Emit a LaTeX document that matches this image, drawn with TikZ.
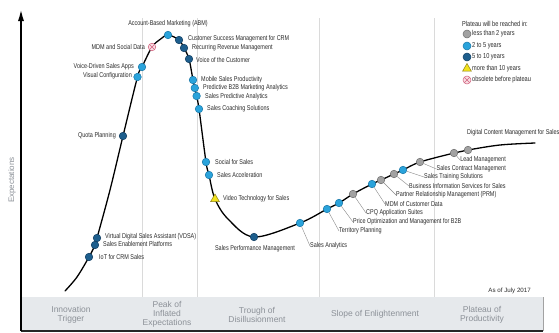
\documentclass[tikz,border=0pt]{standalone}
\usepackage{fontspec}
\setmainfont{Liberation Sans}
\newfontfamily\condf{Liberation Sans}[FakeStretch=0.78]
\usetikzlibrary{arrows.meta,shapes.geometric}
\definecolor{cgray}{HTML}{A2A2A2}
\definecolor{cgrayd}{HTML}{6E6E6E}
\definecolor{clb}{HTML}{2AA3DB}
\definecolor{clbd}{HTML}{1A78A8}
\definecolor{cdb}{HTML}{1D5E8D}
\definecolor{cdbd}{HTML}{123F63}
\definecolor{cyl}{HTML}{F2E21C}
\definecolor{cyld}{HTML}{8C8012}
\definecolor{cobs}{HTML}{D2637F}
\definecolor{cobsf}{HTML}{F8DCE3}
\definecolor{ctext}{HTML}{2B2B2B}
\definecolor{cphase}{HTML}{8C9198}
\definecolor{cband}{HTML}{E6E9EC}
\definecolor{cdiv}{HTML}{DADADA}
\definecolor{clead}{HTML}{8A8A8A}
\begin{document}
\begin{tikzpicture}[x=1pt,y=-1pt,
  lab/.style={font=\condf\fontsize{7}{8}\selectfont, text=ctext, inner sep=0pt},
  leg/.style={font=\condf\fontsize{7.2}{8}\selectfont, text=ctext, inner sep=0pt, anchor=west},
  phase/.style={font=\fontsize{8.5}{9}\selectfont, text=cphase, align=center, inner sep=0pt},
  dot/.style={circle, minimum size=7.6pt, inner sep=0pt, line width=0.5pt},
  gr/.style={dot, fill=cgray, draw=cgrayd},
  lb/.style={dot, fill=clb, draw=clbd},
  db/.style={dot, fill=cdb, draw=cdbd},
  yl/.style={regular polygon, regular polygon sides=3, minimum size=10pt, inner sep=0pt, fill=cyl, draw=cyld, line width=0.5pt},
  obs/.style={dot, fill=cobsf, draw=cobs, path picture={\draw[cobs, line width=0.5pt] (path picture bounding box.north west) -- (path picture bounding box.south east) (path picture bounding box.north east) -- (path picture bounding box.south west);}},
  leader/.style={draw=clead, line width=0.4pt},
  divider/.style={draw=cdiv, line width=0.6pt},
  curve/.style={draw=black, line width=1.3pt, line cap=round}
]
\useasboundingbox (0,0) rectangle (559,332);
\fill[white] (0,0) rectangle (559,332);

% phase dividers
\foreach \xx in {142,197,319,434} {
  \draw[divider] (\xx,18) -- (\xx,297);
}

% bottom band
\fill[cband] (21,297) rectangle (543,331);
\draw[draw=cgray, line width=0.5pt] (543,297) -- (543,331);
\coordinate (bl) at (21,331);
\coordinate (br) at (543,331);
\coordinate (top) at (21,8);
\draw[line width=1.5pt, draw=black!85] (bl) -- (br);
\draw[line width=2.2pt, -{Latex[length=13pt,width=6pt]}] (bl) -- (top);

\node[phase] (ph1) at (71,315) {Innovation\\Trigger};
\node[phase] (ph2) at (167,314) {Peak of\\Inflated\\Expectations};
\node[phase] (ph3) at (257,315) {Trough of\\Disillusionment};
\node[phase] (ph4) at (375,314) {Slope of Enlightenment};
\node[phase] (ph5) at (482,315) {Plateau of\\Productivity};
\node[font=\fontsize{8}{9}\selectfont, text=cphase, rotate=90, inner sep=0pt] (ylab) at (12,180) {Expectations};
\node[font=\fontsize{6.2}{7}\selectfont, text=ctext, anchor=east, inner sep=0pt] (asof) at (531,291) {As of July 2017};

% hype curve
\draw[curve] plot[smooth, tension=0.55] coordinates {
 (65,291) (77,277) (89,257) (95,245) (97,238) (110,190) (123,136) (137.5,77) (142,67) (152,47) (160,39.5) (168,35)
 (179,40) (184,48) (189,59) (193,80) (194.8,88) (196.6,96) (199,109) (206,162) (209,175) (215,199) (228,219)
 (254,237) (300,223) (327,209) (339,203) (353,194) (372,184) (381,180) (394,174) (403,170) (420,162)
 (454,153) (468,150) (500,145) (535,143)};

% points on the curve
\node[db] (iot) at (89,257) {};
\node[db] (sep) at (95,245) {};
\node[db] (vdsa) at (97,238) {};
\node[db] (qp) at (123,136) {};
\node[lb] (vc) at (137.5,77) {};
\node[lb] (vds) at (142,67) {};
\node[obs] (mdm) at (152,47) {};
\node[lb] (abm) at (168,35) {};
\node[db] (csm) at (179,40) {};
\node[db] (rrm) at (184,48) {};
\node[db] (voc) at (189,59) {};
\node[lb] (msp) at (193,80) {};
\node[lb] (pba) at (194.8,88) {};
\node[lb] (spa) at (196.6,96) {};
\node[lb] (scs) at (199,109) {};
\node[lb] (sfs) at (206,162) {};
\node[lb] (sac) at (209,175) {};
\node[yl] (vts) at (215,199) {};
\node[db] (spm) at (254,237) {};
\node[lb] (san) at (300,223) {};
\node[lb] (tp) at (327,209) {};
\node[lb] (po) at (339,203) {};
\node[gr] (cpq) at (353,194) {};
\node[lb] (mcd) at (372,184) {};
\node[gr] (prm) at (381,180) {};
\node[gr] (bis) at (394,174) {};
\node[lb] (sts) at (403,170) {};
\node[gr] (scm) at (420,162) {};
\node[gr] (lm) at (454,153) {};
\node[gr] (dcm) at (468,150) {};

% labels
\node[lab] (abml) at (168,24) {Account-Based Marketing (ABM)};
\node[lab, anchor=west] (csml) at (188,39) {Customer Success Management for CRM};
\node[lab, anchor=west] (rrml) at (192,48) {Recurring Revenue Management};
\node[lab, anchor=west] (vocl) at (196,60) {Voice of the Customer};
\node[lab, anchor=west] (mspl) at (201,80) {Mobile Sales Productivity};
\node[lab, anchor=west] (pbal) at (203,88) {Predictive B2B Marketing Analytics};
\node[lab, anchor=west] (spal) at (205,97) {Sales Predictive Analytics};
\node[lab, anchor=west] (scsl) at (207,109) {Sales Coaching Solutions};
\node[lab, anchor=east] (mdml) at (145,47) {MDM and Social Data};
\node[lab, anchor=east] (vdsl) at (134,67) {Voice-Driven Sales Apps};
\node[lab, anchor=east] (vcl) at (132,76) {Visual Configuration};
\node[lab, anchor=east] (qpl) at (116,136) {Quota Planning};
\node[lab, anchor=west] (vdsal) at (105,237) {Virtual Digital Sales Assistant (VDSA)};
\node[lab, anchor=west] (sepl) at (103,244) {Sales Enablement Platforms};
\node[lab, anchor=west] (iotl) at (99,257) {IoT for CRM Sales};
\node[lab, anchor=west] (sfsl) at (215,162) {Social for Sales};
\node[lab, anchor=west] (sacl) at (217,175) {Sales Acceleration};
\node[lab, anchor=west] (vtsl) at (223,199) {Video Technology for Sales};
\node[lab] (spml) at (255,249) {Sales Performance Management};
\node[lab, anchor=west] (sanl) at (310,246) {Sales Analytics};
\node[lab, anchor=west] (tpl) at (339,231) {Territory Planning};
\node[lab, anchor=west] (pol) at (353,222) {Price Optimization and Management for B2B};
\node[lab, anchor=west] (cpql) at (366,213) {CPQ Application Suites};
\node[lab, anchor=west] (mcdl) at (385,204) {MDM of Customer Data};
\node[lab, anchor=west] (prml) at (396,195) {Partner Relationship Management (PRM)};
\node[lab, anchor=west] (bisl) at (409,186) {Business Information Services for Sales};
\node[lab, anchor=west] (stsl) at (424,177) {Sales Training Solutions};
\node[lab, anchor=east] (scml) at (506,169) {Sales Contract Management};
\node[lab, anchor=east] (lml) at (506,160) {Lead Management};
\node[lab, anchor=west] (dcml) at (467,133) {Digital Content Management for Sales};

% leader lines
\draw[leader] (san) -- (sanl.west);
\draw[leader] (tp) -- (tpl.west);
\draw[leader] (po) -- (pol.west);
\draw[leader] (cpq) -- (cpql.west);
\draw[leader] (mcd) -- (mcdl.west);
\draw[leader] (prm) -- (prml.west);
\draw[leader] (bis) -- (bisl.west);
\draw[leader] (sts) -- (stsl.west);
\draw[leader] (scm) -- (scml.west);
\draw[leader] (lm) -- (lml.west);

% legend
\node[leg] (legt) at (462,24) {Plateau will be reached in:};
\node[gr, minimum size=8pt] (lg1) at (467,34) {};
\node[lb, minimum size=8pt] (lg2) at (467,46) {};
\node[db, minimum size=8pt] (lg3) at (467,57) {};
\node[yl] (lg4) at (467,68.5) {};
\node[obs, minimum size=8pt] (lg5) at (467,80) {};
\node[leg] (lt1) at (472,34) {less than 2 years};
\node[leg] (lt2) at (472,46) {2 to 5 years};
\node[leg] (lt3) at (472,57) {5 to 10 years};
\node[leg] (lt4) at (472,69) {more than 10 years};
\node[leg] (lt5) at (472,80) {obsolete before plateau};
\end{tikzpicture}
\end{document}
